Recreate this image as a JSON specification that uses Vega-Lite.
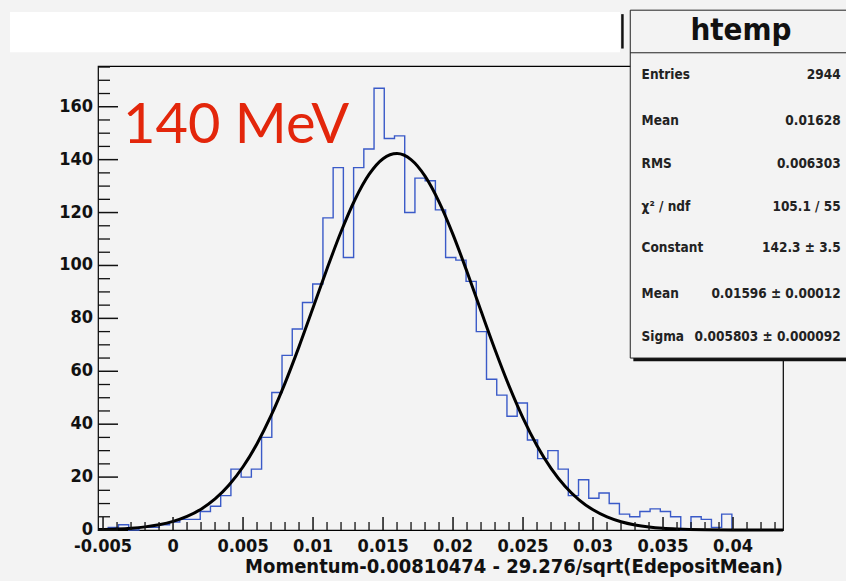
{
  "$schema": "https://vega.github.io/schema/vega-lite/v6.json",
  "width": 685,
  "height": 464,
  "autosize": {"type": "none"},
  "padding": {"left": 98, "top": 66, "right": 63, "bottom": 51},
  "background": "#f3f3f3",
  "config": {
    "view": {"fill": "#f3f3f3", "stroke": "#000000", "strokeWidth": 1.2}
  },
  "datasets": {
    "hist": [
      {"x": -0.00536, "n": 0}, {"x": -0.00463, "n": 1}, {"x": -0.003899, "n": 2}, {"x": -0.003169, "n": 0},
      {"x": -0.002439, "n": 1}, {"x": -0.001709, "n": 1}, {"x": -0.000978, "n": 2}, {"x": -0.000248, "n": 3},
      {"x": 0.000482, "n": 4}, {"x": 0.001213, "n": 4}, {"x": 0.001943, "n": 7}, {"x": 0.002673, "n": 9},
      {"x": 0.003404, "n": 13}, {"x": 0.004134, "n": 23}, {"x": 0.004864, "n": 20}, {"x": 0.005595, "n": 23},
      {"x": 0.006325, "n": 35}, {"x": 0.007055, "n": 52}, {"x": 0.007785, "n": 66}, {"x": 0.008516, "n": 76},
      {"x": 0.009246, "n": 86}, {"x": 0.009976, "n": 93}, {"x": 0.010707, "n": 118}, {"x": 0.011437, "n": 137},
      {"x": 0.012167, "n": 103}, {"x": 0.012898, "n": 137}, {"x": 0.013628, "n": 144}, {"x": 0.014358, "n": 167},
      {"x": 0.015088, "n": 148}, {"x": 0.015819, "n": 149}, {"x": 0.016549, "n": 120}, {"x": 0.017279, "n": 133},
      {"x": 0.01801, "n": 132}, {"x": 0.01874, "n": 121}, {"x": 0.01947, "n": 103}, {"x": 0.020201, "n": 102},
      {"x": 0.020931, "n": 94}, {"x": 0.021661, "n": 75}, {"x": 0.022391, "n": 57}, {"x": 0.023122, "n": 51},
      {"x": 0.023852, "n": 43}, {"x": 0.024582, "n": 48}, {"x": 0.025313, "n": 34}, {"x": 0.026043, "n": 27},
      {"x": 0.026773, "n": 30}, {"x": 0.027504, "n": 23}, {"x": 0.028234, "n": 13}, {"x": 0.028964, "n": 19},
      {"x": 0.029694, "n": 12}, {"x": 0.030425, "n": 14}, {"x": 0.031155, "n": 10}, {"x": 0.031885, "n": 6},
      {"x": 0.032616, "n": 5}, {"x": 0.033346, "n": 7}, {"x": 0.034076, "n": 8}, {"x": 0.034807, "n": 7},
      {"x": 0.035537, "n": 5}, {"x": 0.036267, "n": 0}, {"x": 0.036997, "n": 5}, {"x": 0.037728, "n": 4},
      {"x": 0.038458, "n": 1}, {"x": 0.039188, "n": 6}, {"x": 0.039919, "n": 0}
    ],
    "fit": [
      {"x": -0.00536, "n": 0.16}, {"x": -0.004, "n": 0.38}, {"x": -0.003, "n": 0.68}, {"x": -0.002, "n": 1.18},
      {"x": -0.001, "n": 1.99}, {"x": 0.0, "n": 3.24}, {"x": 0.001, "n": 5.13}, {"x": 0.002, "n": 7.88},
      {"x": 0.003, "n": 11.75}, {"x": 0.004, "n": 17.01}, {"x": 0.005, "n": 23.91}, {"x": 0.006, "n": 32.62},
      {"x": 0.007, "n": 43.2}, {"x": 0.008, "n": 55.54}, {"x": 0.009, "n": 69.32}, {"x": 0.01, "n": 83.98},
      {"x": 0.011, "n": 98.76}, {"x": 0.012, "n": 112.74}, {"x": 0.013, "n": 124.94}, {"x": 0.014, "n": 134.41},
      {"x": 0.015, "n": 140.37}, {"x": 0.016, "n": 142.3}, {"x": 0.017, "n": 140.03}, {"x": 0.018, "n": 133.77},
      {"x": 0.019, "n": 124.06}, {"x": 0.02, "n": 111.67}, {"x": 0.021, "n": 97.59}, {"x": 0.022, "n": 82.79},
      {"x": 0.023, "n": 68.17}, {"x": 0.024, "n": 54.5}, {"x": 0.025, "n": 42.29}, {"x": 0.026, "n": 31.86},
      {"x": 0.027, "n": 23.3}, {"x": 0.028, "n": 16.54}, {"x": 0.029, "n": 11.4}, {"x": 0.03, "n": 7.62},
      {"x": 0.031, "n": 4.95}, {"x": 0.032, "n": 3.12}, {"x": 0.033, "n": 1.91}, {"x": 0.034, "n": 1.13},
      {"x": 0.035, "n": 0.65}, {"x": 0.036, "n": 0.37}, {"x": 0.038, "n": 0.1}, {"x": 0.04, "n": 0.03},
      {"x": 0.04357, "n": 0.0}
    ],
    "xmajor": [{"v": -0.005, "t": "-0.005"}, {"v": 0, "t": "0"}, {"v": 0.005, "t": "0.005"}, {"v": 0.01, "t": "0.01"}, {"v": 0.015, "t": "0.015"}, {"v": 0.02, "t": "0.02"}, {"v": 0.025, "t": "0.025"}, {"v": 0.03, "t": "0.03"}, {"v": 0.035, "t": "0.035"}, {"v": 0.04, "t": "0.04"}],
    "xminor": [
      {"v": -0.004}, {"v": -0.003}, {"v": -0.002}, {"v": -0.001}, {"v": 0.001}, {"v": 0.002}, {"v": 0.003}, {"v": 0.004},
      {"v": 0.006}, {"v": 0.007}, {"v": 0.008}, {"v": 0.009}, {"v": 0.011}, {"v": 0.012}, {"v": 0.013}, {"v": 0.014},
      {"v": 0.016}, {"v": 0.017}, {"v": 0.018}, {"v": 0.019}, {"v": 0.021}, {"v": 0.022}, {"v": 0.023}, {"v": 0.024},
      {"v": 0.026}, {"v": 0.027}, {"v": 0.028}, {"v": 0.029}, {"v": 0.031}, {"v": 0.032}, {"v": 0.033}, {"v": 0.034},
      {"v": 0.036}, {"v": 0.037}, {"v": 0.038}, {"v": 0.039}, {"v": 0.041}, {"v": 0.042}, {"v": 0.043}
    ],
    "ymajor": [{"v": 0}, {"v": 20}, {"v": 40}, {"v": 60}, {"v": 80}, {"v": 100}, {"v": 120}, {"v": 140}, {"v": 160}],
    "yminor": [
      {"v": 5}, {"v": 10}, {"v": 15}, {"v": 25}, {"v": 30}, {"v": 35}, {"v": 45}, {"v": 50}, {"v": 55},
      {"v": 65}, {"v": 70}, {"v": 75}, {"v": 85}, {"v": 90}, {"v": 95}, {"v": 105}, {"v": 110}, {"v": 115},
      {"v": 125}, {"v": 130}, {"v": 135}, {"v": 145}, {"v": 150}, {"v": 155}, {"v": 165}, {"v": 170}, {"v": 175}
    ],
    "stats": [
      {"label": "Entries", "value": "2944", "y": 172.0},
      {"label": "Mean", "value": "0.01628", "y": 154.7},
      {"label": "RMS", "value": "0.006303", "y": 138.3},
      {"label": "χ² / ndf", "value": "105.1 / 55", "y": 122.2},
      {"label": "Constant", "value": "142.3 ± 3.5", "y": 106.6},
      {"label": "Mean", "value": "0.01596 ± 0.00012", "y": 89.2},
      {"label": "Sigma", "value": "0.005803 ± 0.000092", "y": 73.1}
    ]
  },
  "layer": [
    {
      "data": {"values": [{"x": -0.011643, "x2": 0.031929, "y": 195.8, "y2": 180.6}]},
      "mark": {"type": "rect", "fill": "#ffffff", "clip": false},
      "encoding": {
        "x": {"field": "x", "type": "quantitative", "scale": {"domain": [-0.00536, 0.04357], "nice": false, "zero": false}, "axis": null},
        "x2": {"field": "x2"},
        "y": {"field": "y", "type": "quantitative", "scale": {"domain": [0, 175.4], "nice": false, "zero": false}, "axis": null},
        "y2": {"field": "y2"}
      }
    },
    {
      "data": {"values": [{"x": 0.0321, "y": 182.0, "y2": 195.0}]},
      "mark": {"type": "rule", "stroke": "#111111", "strokeWidth": 2.5, "clip": false},
      "encoding": {
        "x": {"field": "x", "type": "quantitative", "scale": {"domain": [-0.00536, 0.04357], "nice": false, "zero": false}, "axis": null},
        "y": {"field": "y", "type": "quantitative", "scale": {"domain": [0, 175.4], "nice": false, "zero": false}, "axis": null},
        "y2": {"field": "y2"}
      }
    },
    {
      "data": {"name": "hist"},
      "mark": {"type": "line", "interpolate": "step-after", "stroke": "#3a5ac8", "strokeWidth": 1.4},
      "encoding": {
        "x": {"field": "x", "type": "quantitative", "scale": {"domain": [-0.00536, 0.04357], "nice": false, "zero": false}, "axis": null},
        "y": {"field": "n", "type": "quantitative", "scale": {"domain": [0, 175.4], "nice": false, "zero": false}, "axis": null}
      }
    },
    {
      "data": {"name": "fit"},
      "mark": {"type": "line", "interpolate": "monotone", "stroke": "#000000", "strokeWidth": 3},
      "encoding": {
        "x": {"field": "x", "type": "quantitative", "scale": {"domain": [-0.00536, 0.04357], "nice": false, "zero": false}, "axis": null},
        "y": {"field": "n", "type": "quantitative", "scale": {"domain": [0, 175.4], "nice": false, "zero": false}, "axis": null}
      }
    },
    {
      "data": {"values": [{"x": -0.003571, "y": 146.3, "t": "140 MeV"}]},
      "mark": {"type": "text", "font": "Lato", "fontSize": 56, "fill": "#e3260b", "align": "left", "baseline": "alphabetic", "clip": false},
      "encoding": {
        "x": {"field": "x", "type": "quantitative", "scale": {"domain": [-0.00536, 0.04357], "nice": false, "zero": false}, "axis": null},
        "y": {"field": "y", "type": "quantitative", "scale": {"domain": [0, 175.4], "nice": false, "zero": false}, "axis": null},
        "text": {"field": "t"}
      }
    },
    {
      "data": {"values": [{"x": 0.03288, "x2": 0.0484, "y": 195.4, "y2": 63.8}]},
      "mark": {"type": "rect", "fill": "#111111", "clip": false},
      "encoding": {
        "x": {"field": "x", "type": "quantitative", "scale": {"domain": [-0.00536, 0.04357], "nice": false, "zero": false}, "axis": null},
        "x2": {"field": "x2"},
        "y": {"field": "y", "type": "quantitative", "scale": {"domain": [0, 175.4], "nice": false, "zero": false}, "axis": null},
        "y2": {"field": "y2"}
      }
    },
    {
      "data": {"values": [{"x": 0.03266, "x2": 0.0482, "y": 196.5, "y2": 65.0}]},
      "mark": {"type": "rect", "fill": "#f3f3f3", "stroke": "#222222", "strokeWidth": 1, "clip": false},
      "encoding": {
        "x": {"field": "x", "type": "quantitative", "scale": {"domain": [-0.00536, 0.04357], "nice": false, "zero": false}, "axis": null},
        "x2": {"field": "x2"},
        "y": {"field": "y", "type": "quantitative", "scale": {"domain": [0, 175.4], "nice": false, "zero": false}, "axis": null},
        "y2": {"field": "y2"}
      }
    },
    {
      "data": {"values": [{"x": 0.03266, "x2": 0.0482, "y": 180.4}]},
      "mark": {"type": "rule", "stroke": "#222222", "strokeWidth": 1, "clip": false},
      "encoding": {
        "x": {"field": "x", "type": "quantitative", "scale": {"domain": [-0.00536, 0.04357], "nice": false, "zero": false}, "axis": null},
        "x2": {"field": "x2"},
        "y": {"field": "y", "type": "quantitative", "scale": {"domain": [0, 175.4], "nice": false, "zero": false}, "axis": null}
      }
    },
    {
      "data": {"values": [{"x": 0.04057, "y": 188.6, "t": "htemp"}]},
      "mark": {"type": "text", "font": "DejaVu Sans Condensed", "fontWeight": "bold", "fontSize": 31, "fill": "#111111", "align": "center", "baseline": "middle", "clip": false},
      "encoding": {
        "x": {"field": "x", "type": "quantitative", "scale": {"domain": [-0.00536, 0.04357], "nice": false, "zero": false}, "axis": null},
        "y": {"field": "y", "type": "quantitative", "scale": {"domain": [0, 175.4], "nice": false, "zero": false}, "axis": null},
        "text": {"field": "t"}
      }
    },
    {
      "data": {"name": "stats"},
      "mark": {"type": "text", "font": "DejaVu Sans Condensed", "fontWeight": "bold", "fontSize": 13.5, "fill": "#222222", "align": "left", "baseline": "middle", "clip": false},
      "encoding": {
        "x": {"datum": 0.03347, "type": "quantitative", "scale": {"domain": [-0.00536, 0.04357], "nice": false, "zero": false}, "axis": null},
        "y": {"field": "y", "type": "quantitative", "scale": {"domain": [0, 175.4], "nice": false, "zero": false}, "axis": null},
        "text": {"field": "label"}
      }
    },
    {
      "data": {"name": "stats"},
      "mark": {"type": "text", "font": "DejaVu Sans Condensed", "fontWeight": "bold", "fontSize": 13.5, "fill": "#222222", "align": "right", "baseline": "middle", "clip": false},
      "encoding": {
        "x": {"datum": 0.04769, "type": "quantitative", "scale": {"domain": [-0.00536, 0.04357], "nice": false, "zero": false}, "axis": null},
        "y": {"field": "y", "type": "quantitative", "scale": {"domain": [0, 175.4], "nice": false, "zero": false}, "axis": null},
        "text": {"field": "value"}
      }
    },
    {
      "data": {"name": "xmajor"},
      "mark": {"type": "text", "font": "DejaVu Sans Condensed", "fontWeight": "bold", "fontSize": 18, "fill": "#111111", "align": "center", "baseline": "middle", "clip": false},
      "encoding": {
        "x": {"field": "v", "type": "quantitative", "scale": {"domain": [-0.00536, 0.04357], "nice": false, "zero": false}, "axis": null},
        "y": {"datum": -6.5, "type": "quantitative", "scale": {"domain": [0, 175.4], "nice": false, "zero": false}, "axis": null},
        "text": {"field": "t"}
      }
    },
    {
      "data": {"name": "ymajor"},
      "mark": {"type": "text", "font": "DejaVu Sans Condensed", "fontWeight": "bold", "fontSize": 18, "fill": "#111111", "align": "right", "baseline": "middle", "clip": false},
      "encoding": {
        "y": {"field": "v", "type": "quantitative", "scale": {"domain": [0, 175.4], "nice": false, "zero": false}, "axis": null},
        "x": {"datum": -0.005714, "type": "quantitative", "scale": {"domain": [-0.00536, 0.04357], "nice": false, "zero": false}, "axis": null},
        "text": {"field": "v", "type": "quantitative"}
      }
    },
    {
      "data": {"values": [{"t": "Momentum-0.00810474 - 29.276/sqrt(EdepositMean)"}]},
      "mark": {"type": "text", "font": "DejaVu Sans Condensed", "fontWeight": "bold", "fontSize": 20, "fill": "#111111", "align": "right", "baseline": "middle", "clip": false},
      "encoding": {
        "x": {"datum": 0.04357, "type": "quantitative", "scale": {"domain": [-0.00536, 0.04357], "nice": false, "zero": false}, "axis": null},
        "y": {"datum": -14.0, "type": "quantitative", "scale": {"domain": [0, 175.4], "nice": false, "zero": false}, "axis": null},
        "text": {"field": "t"}
      }
    },
    {
      "data": {"name": "xmajor"},
      "mark": {"type": "rule", "stroke": "#111111", "strokeWidth": 1.5},
      "encoding": {
        "x": {"field": "v", "type": "quantitative", "scale": {"domain": [-0.00536, 0.04357], "nice": false, "zero": false}, "axis": null},
        "y": {"datum": 0, "type": "quantitative", "scale": {"domain": [0, 175.4], "nice": false, "zero": false}, "axis": null},
        "y2": {"datum": 4.91}
      }
    },
    {
      "data": {"name": "xminor"},
      "mark": {"type": "rule", "stroke": "#111111", "strokeWidth": 1.3},
      "encoding": {
        "x": {"field": "v", "type": "quantitative", "scale": {"domain": [-0.00536, 0.04357], "nice": false, "zero": false}, "axis": null},
        "y": {"datum": 0, "type": "quantitative", "scale": {"domain": [0, 175.4], "nice": false, "zero": false}, "axis": null},
        "y2": {"datum": 3.0}
      }
    },
    {
      "data": {"name": "ymajor"},
      "mark": {"type": "rule", "stroke": "#111111", "strokeWidth": 1.5},
      "encoding": {
        "y": {"field": "v", "type": "quantitative", "scale": {"domain": [0, 175.4], "nice": false, "zero": false}, "axis": null},
        "x": {"datum": -0.00536, "type": "quantitative", "scale": {"domain": [-0.00536, 0.04357], "nice": false, "zero": false}, "axis": null},
        "x2": {"datum": -0.003931}
      }
    },
    {
      "data": {"name": "yminor"},
      "mark": {"type": "rule", "stroke": "#111111", "strokeWidth": 1.3},
      "encoding": {
        "y": {"field": "v", "type": "quantitative", "scale": {"domain": [0, 175.4], "nice": false, "zero": false}, "axis": null},
        "x": {"datum": -0.00536, "type": "quantitative", "scale": {"domain": [-0.00536, 0.04357], "nice": false, "zero": false}, "axis": null},
        "x2": {"datum": -0.004503}
      }
    }
  ]
}
